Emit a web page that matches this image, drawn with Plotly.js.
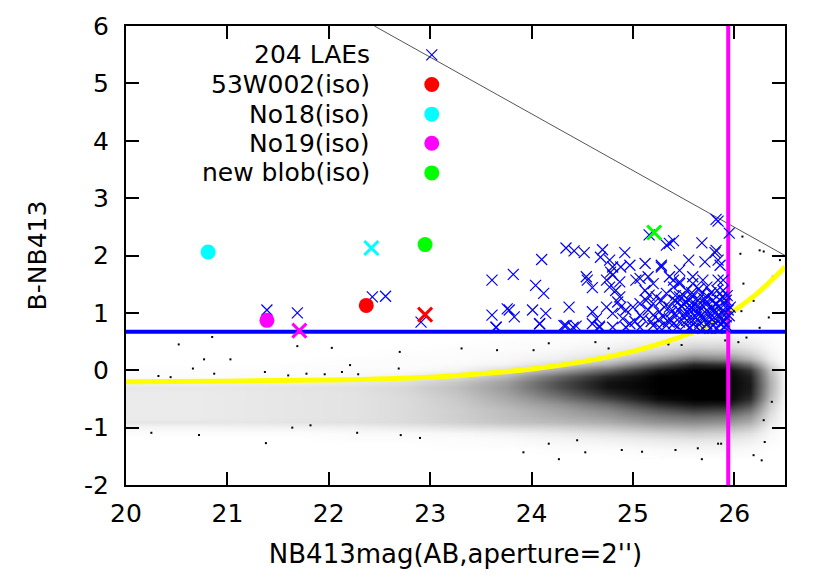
<!DOCTYPE html>
<html>
<head>
<meta charset="utf-8">
<script src="https://cdn.plot.ly/plotly-3.0.1.min.js"></script>
<style>html,body{margin:0;padding:0;background:#fff;}#chart{width:830px;height:579px;}</style>
</head>
<body>
<div id="chart"></div>
<script>
// ---- Field objects: density of the black point cloud (estimated darkness 0..1) ----
const fieldMagCenters = [20.25, 20.75, 21.25, 21.75, 22.25, 22.75, 23.25, 23.75, 24.25, 24.75, 25.25, 25.6, 25.9, 26.15, 26.35, 26.5];
const fieldColorCenters = [-1.5,-1.4,-1.3,-1.2,-1.1,-1.0,-0.9,-0.8,-0.7,-0.6,-0.5,-0.4,-0.3,-0.2,-0.1,0.0,0.1,0.2,0.3,0.4,0.5,0.6,0.7];
const fieldDensity = [
  [0,0,0,0,0,0,0,0,0,0,0.01,0.01,0.01,0.01,0,0],
  [0,0,0,0,0,0,0,0,0.01,0.01,0.02,0.03,0.03,0.02,0,0],
  [0,0,0,0,0,0,0.01,0.01,0.02,0.03,0.05,0.06,0.06,0.04,0.01,0],
  [0,0,0,0,0.01,0.01,0.01,0.02,0.04,0.06,0.09,0.11,0.1,0.07,0.02,0],
  [0.01,0.01,0.01,0.01,0.02,0.02,0.03,0.05,0.08,0.12,0.17,0.2,0.18,0.12,0.03,0],
  [0.04,0.04,0.05,0.05,0.06,0.08,0.11,0.14,0.17,0.22,0.3,0.33,0.3,0.22,0.06,0],
  [0.1,0.1,0.1,0.11,0.12,0.14,0.18,0.23,0.27,0.32,0.42,0.45,0.42,0.32,0.09,0.01],
  [0.08,0.08,0.09,0.1,0.11,0.14,0.19,0.25,0.32,0.4,0.52,0.58,0.55,0.42,0.12,0.01],
  [0.08,0.08,0.09,0.1,0.11,0.14,0.19,0.26,0.36,0.47,0.65,0.75,0.72,0.55,0.16,0.01],
  [0.08,0.08,0.09,0.1,0.11,0.14,0.2,0.3,0.42,0.58,0.82,0.92,0.9,0.7,0.2,0.02],
  [0.08,0.08,0.09,0.1,0.11,0.14,0.21,0.33,0.5,0.72,0.95,1,1,0.82,0.26,0.02],
  [0.08,0.08,0.09,0.1,0.11,0.15,0.23,0.37,0.6,0.85,1,1,1,0.88,0.3,0.03],
  [0.09,0.09,0.1,0.11,0.12,0.16,0.25,0.4,0.68,0.93,1,1,1,0.9,0.32,0.03],
  [0.06,0.06,0.07,0.07,0.09,0.13,0.22,0.38,0.68,0.93,1,1,1,0.9,0.32,0.03],
  [0.01,0.01,0.02,0.02,0.03,0.06,0.13,0.28,0.58,0.85,1,1,1,0.88,0.3,0.03],
  [0.01,0.01,0.01,0.01,0.02,0.02,0.05,0.14,0.35,0.62,0.92,1,1,0.8,0.25,0.02],
  [0,0,0,0.01,0.01,0.01,0.02,0.05,0.15,0.32,0.65,0.85,0.8,0.55,0.15,0.01],
  [0,0,0,0,0.01,0.01,0.01,0.03,0.07,0.16,0.38,0.55,0.5,0.32,0.08,0],
  [0,0,0,0,0,0.01,0.01,0.02,0.04,0.09,0.2,0.32,0.3,0.18,0.05,0],
  [0,0,0,0,0,0,0.01,0.01,0.02,0.05,0.11,0.18,0.17,0.1,0.03,0],
  [0,0,0,0,0,0,0,0.01,0.01,0.03,0.06,0.1,0.1,0.06,0.02,0],
  [0,0,0,0,0,0,0,0,0.01,0.01,0.03,0.05,0.05,0.03,0.01,0],
  [0,0,0,0,0,0,0,0,0,0.01,0.01,0.02,0.02,0.01,0,0]
];
// individually visible sparse field objects
const fieldMagSparse = [20.52,20.85,20.77,21.03,20.66,20.32,20.44,20.87,21.37,21.69,22.03,22.21,22.13,22.29,22.70,22.69,21.60,21.78,21.96,20.25,20.72,21.38,22.28,22.71,22.90,21.64,21.82,
  23.31,23.66,24.02,23.92,24.27,24.53,24.89,25.09,25.42,25.64,25.68,25.84,25.87,26.19,26.30,26.29,26.27,26.37,24.17,24.45,24.17,24.63,24.76,25.35,25.48,25.91,26.04,
  26.06,26.25,26.38,26.45,26.08,26.29,26.07,26.19,26.25,26.34,26.12,26.09];
const fieldColSparse = [0.45,0.58,0.19,0.19,0.03,-0.10,-0.12,-0.06,-0.03,0.42,0.39,0.09,-0.03,-0.07,0.32,0.03,-0.09,-0.06,-0.07,-1.09,-1.13,-1.27,-1.09,-1.13,-1.18,-1.00,-0.96,
  0.38,0.35,0.35,-1.43,-1.55,-1.43,-1.39,-1.42,-1.39,-1.36,-1.55,-1.28,-1.28,-1.48,-1.25,-0.87,-1.57,-0.55,-1.28,-1.22,0.47,0.49,0.38,0.45,0.44,0.52,0.49,
  2.03,2.09,1.63,1.92,2.33,2.07,1.03,1.21,0.74,0.92,0.57,1.51];

// ---- 204 LAEs ----
const laeMag = [25.82,25.84,25.16,25.95,25.36,25.40,25.33,24.34,24.42,24.52,24.70,24.68,24.92,25.68,25.82,25.81,25.86,24.10,24.77,24.80,24.88,24.78,24.97,25.12,25.28,25.46,25.55,25.71,25.84,
  23.61,23.82,24.04,24.12,24.54,24.55,24.60,24.74,24.80,24.87,24.77,24.83,24.87,24.85,24.88,25.03,25.07,25.15,25.20,25.12,25.16,25.07,25.28,25.36,25.46,25.59,25.69,25.84,25.89,25.89,25.92,
  23.61,23.76,23.78,23.83,24.01,24.08,24.14,24.37,24.32,24.44,24.60,24.64,24.67,24.74,24.80,24.93,24.97,23.65,24.90,21.39,21.69,22.43,22.56,22.91,
  25.23,25.28,25.33,25.40,25.41,25.36,25.45,25.46,25.50,25.53,25.55,25.56,25.59,25.61,25.63,25.64,25.66,25.68,25.69,25.71,25.73,25.74,25.76,25.78,25.79,25.81,25.83,25.84,25.86,25.88,25.89,25.91,25.92,25.94,25.96,
  25.59,25.53,25.46,25.40,25.33,25.26,25.50,25.43,25.36,25.30,25.73,25.79,25.86,25.92,25.66,25.56,25.63,25.69,25.76,25.83,25.40,25.46,25.59,25.73,25.83,25.20,25.15,25.20,25.26,25.31,25.73,25.63,25.56,25.51,
  25.00,25.07,25.13,25.07,24.93,25.20,24.80,24.67,24.60,24.41,24.34,24.08,23.65,
  25.50,25.58,25.65,25.70,25.77,25.80,25.87,25.90,25.93,25.62,25.55,25.48,25.42,25.38,25.35,25.44,25.52,25.60,25.67,25.75,25.82,25.88,25.71,25.78,25.85,25.65,25.58,25.52,25.44,25.90,25.95,25.25,25.18,25.10,25.02];
const laeColor = [2.63,2.60,2.36,2.39,2.21,2.26,2.18,2.13,2.08,2.05,2.10,1.97,2.05,2.22,2.09,2.05,1.83,1.93,1.92,1.80,1.80,1.71,1.83,1.86,1.83,1.74,1.92,1.89,1.92,
  1.57,1.67,1.48,1.34,1.63,1.57,1.44,1.57,1.66,1.54,1.45,1.39,1.28,1.19,1.10,1.57,1.60,1.63,1.51,1.39,1.31,1.16,1.80,1.63,1.54,1.63,1.57,1.57,1.57,1.39,1.22,
  0.96,1.07,1.05,0.93,1.05,0.81,0.99,1.10,0.78,0.77,1.02,0.90,0.77,1.10,0.99,1.05,0.81,0.75,0.90,1.05,1.00,1.28,1.29,0.84,
  1.28,1.22,1.34,1.45,1.22,1.10,1.05,1.28,1.16,1.39,1.22,1.05,1.28,1.16,0.99,1.22,1.10,1.34,0.93,1.16,1.05,1.28,0.93,1.10,1.22,0.99,0.87,1.10,1.22,0.99,1.05,1.16,0.93,1.05,1.10,
  0.87,0.87,0.84,0.81,0.78,0.75,0.93,0.96,0.90,0.93,0.81,0.78,0.81,0.78,0.84,0.75,0.75,0.73,0.73,0.73,1.57,1.51,1.51,1.45,1.39,1.16,1.05,0.96,1.02,1.10,1.16,1.10,1.13,0.99,
  1.10,0.96,1.22,0.75,0.75,0.78,0.75,0.75,0.81,0.75,0.78,0.81,0.75,
  1.30,1.35,1.42,1.25,1.35,1.05,0.90,0.85,1.30,0.92,0.98,1.12,1.30,1.02,0.85,0.76,0.80,0.80,0.95,1.00,1.15,1.28,0.88,0.88,0.96,1.02,1.08,1.20,1.18,0.76,0.95,0.88,0.85,0.90,0.85];

// ---- Blobs: isophotal (circles) and aperture (crosses) ----
const blobNames = ["53W002(iso)", "No18(iso)", "No19(iso)", "new blob(iso)"];
const blobColors = ["#ff0000", "#00ffff", "#ff00ff", "#00ff00"];
const blobIsoMag = [22.37, 20.81, 21.39, 22.95];
const blobIsoColor = [1.13, 2.06, 0.87, 2.19];
const blobApMag = [22.95, 22.42, 21.71, 25.21];
const blobApColor = [0.97, 2.13, 0.69, 2.40];

// ---- Lines ----
const limitMagX = [25.94, 25.94];
const limitMagY = [-2, 6];
const colorCutX = [20, 26.5];
const colorCutY = [0.67, 0.67];
const errCurveX = [20, 21, 22, 23, 23.5, 24, 24.5, 25, 25.3, 25.6, 25.9, 26.2, 26.5];
const errCurveY = [-0.2, -0.19, -0.17, -0.12, -0.06, 0.02, 0.15, 0.33, 0.48, 0.67, 0.93, 1.3, 1.8];
const bLimitX = [22.45, 26.5];
const bLimitY = [6.0, 2.0];

// ---- Axis ticks ----
const xTicks = [20, 21, 22, 23, 24, 25, 26];
const yTicks = [-2, -1, 0, 1, 2, 3, 4, 5, 6];

const FONT = "DejaVu Sans, Liberation Sans, Arial, sans-serif";
const FS = 25;

const traces = [];
traces.push({
  type: "heatmap", x: fieldMagCenters, y: fieldColorCenters, z: fieldDensity,
  zmin: 0, zmax: 1, zsmooth: "best", showscale: false, hoverinfo: "skip",
  colorscale: [[0, "rgba(0,0,0,0)"], [1, "rgba(0,0,0,1)"]]
});
traces.push({type: "scatter", mode: "markers", x: fieldMagSparse, y: fieldColSparse,
  marker: {symbol: "square", size: 2, color: "#000"}, hoverinfo: "skip", showlegend: false});
traces.push({type: "scatter", mode: "lines", x: errCurveX, y: errCurveY, line: {color: "#ffff00", width: 5, shape: "spline"}, showlegend: false});
traces.push({type: "scatter", mode: "lines", x: bLimitX, y: bLimitY, line: {color: "#555555", width: 1}, showlegend: false});
traces.push({type: "scatter", mode: "lines", x: colorCutX, y: colorCutY, line: {color: "#0000ff", width: 4}, showlegend: false});
traces.push({type: "scatter", mode: "lines", x: limitMagX, y: limitMagY, line: {color: "#ff00ff", width: 4}, showlegend: false});
traces.push({type: "scatter", mode: "markers", name: "204 LAEs", x: laeMag, y: laeColor,
  marker: {symbol: "x-thin", size: 11, line: {color: "#0000ff", width: 1.2}}, showlegend: false});
for (let i = 0; i < blobNames.length; i++) {
  traces.push({type: "scatter", mode: "markers", x: [blobApMag[i]], y: [blobApColor[i]],
    marker: {symbol: "x-thin", size: 14, line: {color: blobColors[i], width: 3}}, showlegend: false});
  traces.push({type: "scatter", mode: "markers", name: blobNames[i], x: [blobIsoMag[i]], y: [blobIsoColor[i]],
    marker: {symbol: "circle", size: 15, color: blobColors[i]}, showlegend: false});
}

// key (gnuplot style: text right-justified, sample to the right)
const keyLabels = ["204 LAEs"].concat(blobNames);
const keyRowsY = [0.937, 0.8725, 0.808, 0.7445, 0.680];
const keyTextX = 0.373, keySampleX = 0.464;
const annotations = keyLabels.map((t, i) => ({
  text: t, xref: "paper", yref: "paper", x: keyTextX, y: keyRowsY[i], xanchor: "right", yanchor: "middle",
  showarrow: false, font: {family: FONT, size: FS, color: "#000"}
}));
const shapes = [{
  type: "path", xref: "paper", yref: "paper", xsizemode: "pixel", ysizemode: "pixel",
  xanchor: keySampleX, yanchor: keyRowsY[0], path: "M-5.5,-5.5L5.5,5.5M-5.5,5.5L5.5,-5.5",
  line: {color: "#0000ff", width: 1.2}
}];
blobColors.forEach((c, i) => shapes.push({
  type: "circle", xref: "paper", yref: "paper", xsizemode: "pixel", ysizemode: "pixel",
  xanchor: keySampleX, yanchor: keyRowsY[i + 1], x0: -7.5, x1: 7.5, y0: -7.5, y1: 7.5,
  fillcolor: c, line: {width: 0}
}));

const axisCommon = {
  showgrid: false, zeroline: false, showline: true, linecolor: "#000", linewidth: 2,
  mirror: "allticks", ticks: "inside", ticklen: 13, tickwidth: 2, tickcolor: "#000",
  tickfont: {family: FONT, size: FS, color: "#000"}
};
const layout = {
  width: 830, height: 579,
  margin: {l: 126, r: 45, t: 26, b: 94},
  paper_bgcolor: "#fff", plot_bgcolor: "#fff",
  showlegend: false,
  xaxis: Object.assign({}, axisCommon, {range: [20, 26.5], tickvals: xTicks, ticktext: xTicks.map(String),
    ticklabelstandoff: 5,
    title: {text: "NB413mag(AB,aperture=2'')", font: {family: FONT, size: 26, color: "#000"}, standoff: 18}}),
  yaxis: Object.assign({}, axisCommon, {range: [-2, 6], tickvals: yTicks, ticktext: yTicks.map(String),
    ticklabelstandoff: 10,
    title: {text: "B-NB413", font: {family: FONT, size: FS, color: "#000"}, standoff: 30}}),
  annotations: annotations,
  shapes: shapes
};
Plotly.newPlot("chart", traces, layout, {staticPlot: true, displayModeBar: false});
</script>
</body>
</html>
